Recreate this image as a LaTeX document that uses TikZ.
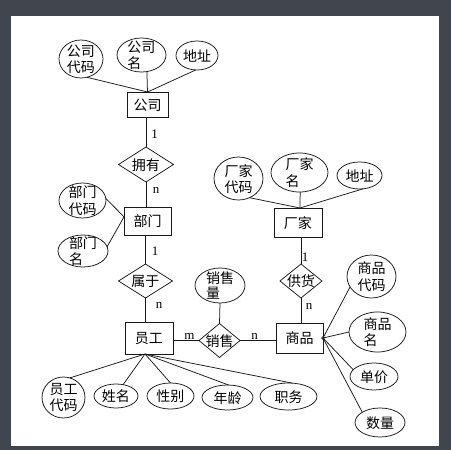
\documentclass[tikz,border=0pt]{standalone}
\usepackage{fontspec}
\setmainfont{Liberation Serif}
\newfontfamily\cjk{Noto Sans CJK SC}
\usetikzlibrary{shapes.geometric}
\definecolor{framegray}{RGB}{65,69,78}
\newcommand\ZZone[1]{\makebox[0pt]{#1}}
\newcommand\ZZtwo[2]{\makebox[0pt]{\begin{tabular}{@{}l@{}}#1\\#2\end{tabular}}}
\tikzset{
  base/.style={draw=black!90, line width=0.75pt, inner sep=0pt, outer sep=0pt,
    text height=11pt, text depth=0pt, font=\cjk\fontsize{14}{15}\selectfont},
  ent/.style={base, rectangle},
  rel/.style={base, diamond},
  attr/.style={base, ellipse},
  card/.style={inner sep=0pt, font=\fontsize{13}{15}\selectfont},
  conn/.style={draw=black!90, line width=0.75pt}
}
\begin{document}
\begin{tikzpicture}[x=1pt,y=-1pt]
\useasboundingbox (0,0) rectangle (451,450);
\fill[framegray] (0,0) rectangle (451,450);
\fill[white] (11,16) rectangle (439,446);

% entities
\node[ent, minimum width=41pt, minimum height=25pt] (gs) at (147.5,104.5) {\ZZone{公司}};
\node[ent, minimum width=47pt, minimum height=28pt] (bm) at (147.5,221) {\ZZone{部门}};
\node[ent, minimum width=48pt, minimum height=32pt] (yg) at (149,338) {\ZZone{员工}};
\node[ent, minimum width=48pt, minimum height=29pt] (cj) at (298,222.5) {\ZZone{厂家}};
\node[ent, minimum width=47pt, minimum height=30pt] (sp) at (299.5,338) {\ZZone{商品}};

% relationships
\node[rel, minimum width=55pt, minimum height=35pt] (yy) at (146,164.5) {\ZZone{拥有}};
\node[rel, minimum width=54pt, minimum height=34pt] (sy) at (145.5,281) {\ZZone{属于}};
\node[rel, minimum width=41pt, minimum height=34pt] (xs) at (219.5,340.5) {\ZZone{销售}};
\node[rel, minimum width=42pt, minimum height=34pt] (gh) at (301,281) {\ZZone{供货}};

% attributes
\node[attr, minimum width=44pt, minimum height=38pt] (gsdm) at (81,59) {\ZZtwo{公司}{代码}};
\node[attr, minimum width=49pt, minimum height=34pt] (gsm) at (141.5,55) {\ZZtwo{公司}{名}};
\node[attr, minimum width=42pt, minimum height=29pt] (gsdz) at (197,55.5) {\ZZone{地址}};
\node[attr, minimum width=47pt, minimum height=35pt] (bmdm) at (82.5,200.5) {\ZZtwo{部门}{代码}};
\node[attr, minimum width=50pt, minimum height=32pt] (bmm) at (83,251) {\ZZtwo{部门}{名}};
\node[attr, minimum width=50pt, minimum height=35pt] (xsl) at (220,285.5) {\ZZtwo{销售}{量}};
\node[attr, minimum width=49pt, minimum height=43pt] (cjdm) at (238.5,178.5) {\ZZtwo{厂家}{代码}};
\node[attr, minimum width=57pt, minimum height=39pt] (cjm) at (299.5,172.5) {\ZZtwo{厂家}{名}};
\node[attr, minimum width=45pt, minimum height=27pt] (cjdz) at (359.5,175.5) {\ZZone{地址}};
\node[attr, minimum width=49pt, minimum height=43pt] (spdm) at (371.5,276.5) {\ZZtwo{商品}{代码}};
\node[attr, minimum width=57pt, minimum height=40pt] (spm) at (377.5,332) {\ZZtwo{商品}{名}};
\node[attr, minimum width=48pt, minimum height=27pt] (spdj) at (374,376.5) {\ZZone{单价}};
\node[attr, minimum width=50pt, minimum height=29pt] (spsl) at (380,422.5) {\ZZone{数量}};
\node[attr, minimum width=43pt, minimum height=41pt] (ygdm) at (63.5,397.5) {\ZZtwo{员工}{代码}};
\node[attr, minimum width=44pt, minimum height=24pt] (ygxm) at (116,396) {\ZZone{姓名}};
\node[attr, minimum width=47pt, minimum height=26pt] (ygxb) at (170.5,396) {\ZZone{性别}};
\node[attr, minimum width=51pt, minimum height=25pt] (ygnl) at (227.5,397.5) {\ZZone{年龄}};
\node[attr, minimum width=57pt, minimum height=27pt] (ygzw) at (288.5,396.5) {\ZZone{职务}};

% junction points
\coordinate (cjtop) at ([xshift=2pt]cj.north);
\coordinate (ygj) at ([xshift=-4pt]yg.south);

% connectors: attributes
\draw[conn] (gsdm.-72) -- (gs.north);
\draw[conn] (gsm.-72) -- (gs.north);
\draw[conn] (gsdz.-95) -- (gs.north);
\draw[conn] (bmdm.5) -- (bm.170);
\draw[conn] (bmm.10) -- (bm.170);
\draw[conn] (xsl.south) -- (xs.north);
\draw[conn] (cjdm.-60) -- (cjtop);
\draw[conn] (cjm.-88) -- (cjtop);
\draw[conn] (cjdz.-75) -- (cjtop);
\draw[conn] (sp.east) -- (spdm.206);
\draw[conn] (sp.east) -- (spm.180);
\draw[conn] (sp.east) -- (spdj.162);
\draw[conn] (sp.east) -- (spsl.150);
\draw[conn] (sp.east) circle (1.3pt);
\draw[conn] (ygj) -- (ygdm.72);
\draw[conn] (ygj) -- (ygxm.58);
\draw[conn] (ygj) -- (ygxb.90);
\draw[conn] (ygj) -- (ygnl.85);
\draw[conn] (ygj) -- (ygzw.75);

% connectors: relationships
\draw[conn] (yy.north) -- (yy.north |- gs.south);
\draw[conn] (yy.south) -- (yy.south |- bm.north);
\draw[conn] (sy.north) -- (sy.north |- bm.south);
\draw[conn] (sy.south) -- (sy.south |- yg.north);
\draw[conn] (xs.west) -- (xs.west -| yg.east);
\draw[conn] (xs.east) -- (xs.east -| sp.west);
\draw[conn] (gh.north) -- (gh.north |- cj.south);
\draw[conn] (gh.south) -- (gh.south |- sp.north);

% cardinalities
\node[card] (c1) at (154.5,134.5) {1};
\node[card] (c2) at (156,190) {n};
\node[card] (c3) at (155,251.5) {1};
\node[card] (c4) at (159,305) {n};
\node[card] (c5) at (189.5,336) {m};
\node[card] (c6) at (254.5,336) {n};
\node[card] (c7) at (305,257.5) {1};
\node[card] (c8) at (309,306) {n};
\end{tikzpicture}
\end{document}
